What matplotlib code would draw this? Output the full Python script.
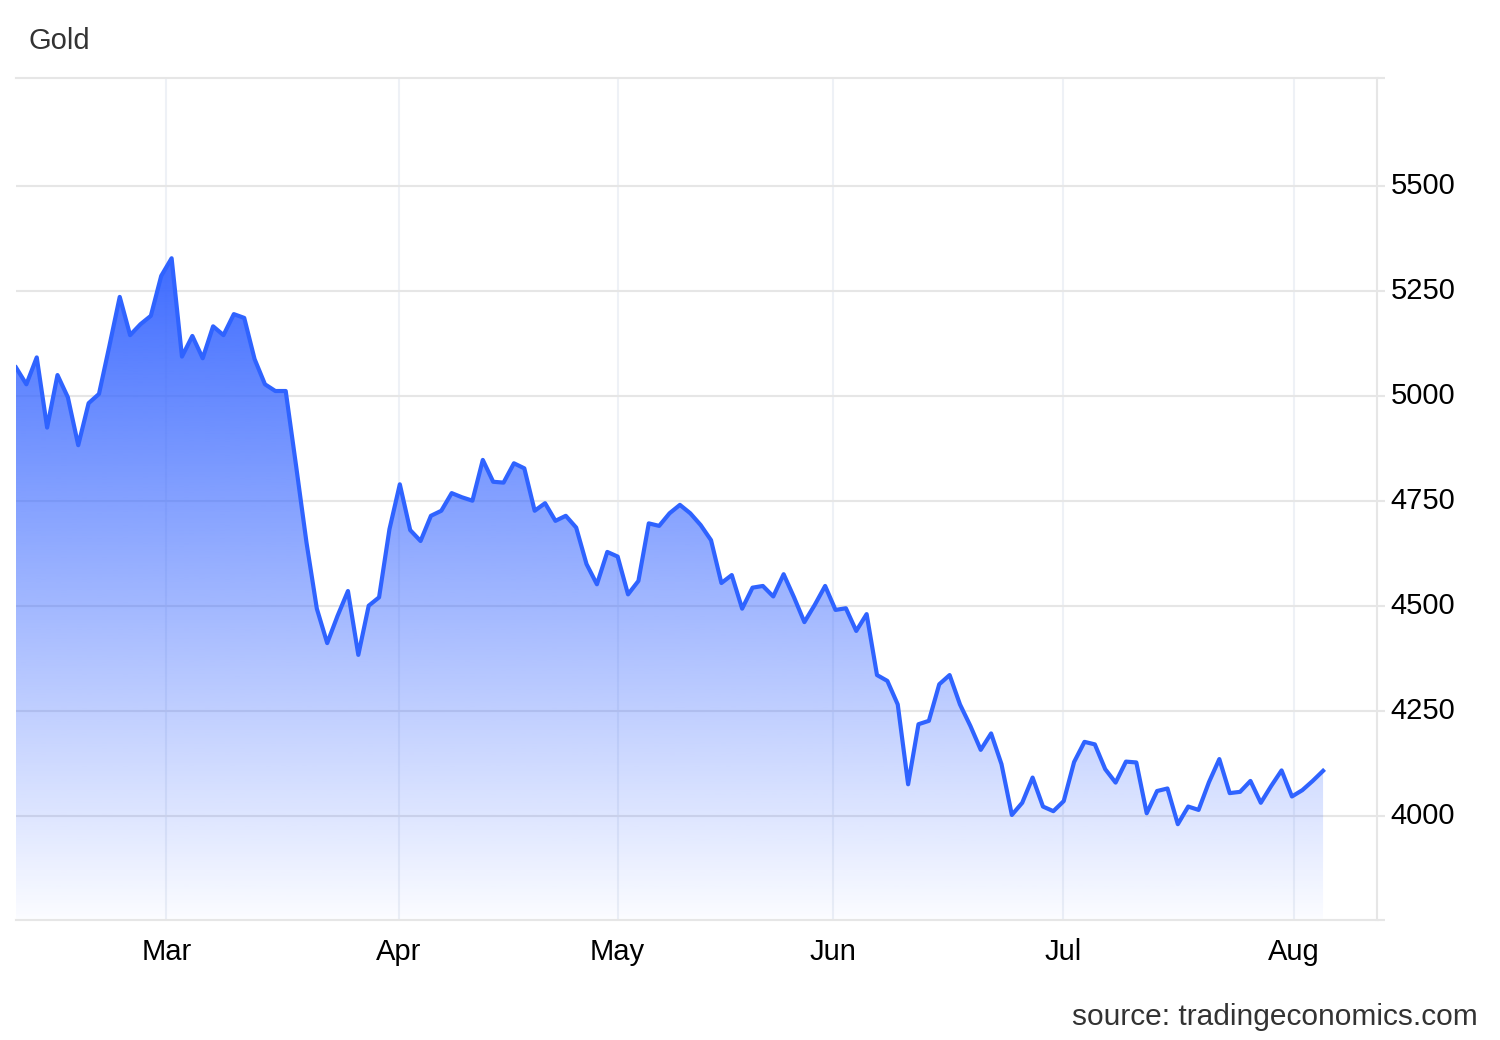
import matplotlib.pyplot as plt
import numpy as np
from matplotlib.colors import to_rgb
from matplotlib.transforms import ScaledTranslation

# daily gold price (USD/oz), one value per trading day
gold = [
    5067, 5027, 5091, 4924, 5049, 4996, 4882, 4982, 5004, 5118,
    5235, 5144, 5170, 5190, 5285, 5327, 5093, 5142, 5089, 5165,
    5144, 5194, 5185, 5087, 5027, 5011, 5011,
    4833, 4651, 4493, 4411, 4476, 4535, 4383, 4500, 4520, 4682,
    4789, 4680, 4654, 4714, 4726, 4768, 4758, 4750, 4847, 4795,
    4793, 4839, 4827, 4726, 4744, 4702, 4714,
    4686, 4599, 4551, 4628, 4617, 4527, 4559, 4696, 4690, 4720,
    4740, 4720, 4692, 4656, 4554, 4573, 4493, 4543, 4547, 4522,
    4575, 4520, 4461, 4502, 4547, 4490,
    4494, 4440, 4480, 4335, 4321, 4265, 4075, 4218, 4226, 4313,
    4335, 4265, 4214, 4157, 4196, 4123, 4002, 4031, 4091, 4022,
    4011, 4035, 4128, 4176, 4170,
    4111, 4079, 4129, 4127, 4006, 4059, 4065, 3980, 4022, 4014,
    4080, 4135, 4054, 4057, 4083, 4031, 4071, 4108, 4046, 4061,
    4083, 4107,
]
month_labels = ['Mar', 'Apr', 'May', 'Jun', 'Jul', 'Aug']
month_pos = [14.5, 36.9, 58.0, 78.8, 100.9, 123.2]
y_ticks = [4000, 4250, 4500, 4750, 5000, 5250, 5500]

plt.rcParams['font.family'] = ['Liberation Sans', 'DejaVu Sans']

x = np.arange(len(gold))
ymin, ymax = 3752, 5756

fig = plt.figure(figsize=(15, 10.4), dpi=100)
ax = fig.add_axes([16 / 1500, 1 - 920 / 1040, (1377 - 16) / 1500, (920 - 78) / 1040])

# gradient area under the line
poly = ax.fill_between(x, gold, ymin, color='none', lw=0)
grad = np.zeros((256, 1, 4))
grad[..., :3] = to_rgb('#3b69ff')
grad[:, 0, 3] = np.linspace(0.98, 0.02, 256)
img = ax.imshow(grad, extent=[0, x[-1], ymin, max(gold)], aspect='auto',
                origin='upper', zorder=1, interpolation='bilinear')
img.set_clip_path(poly.get_paths()[0], transform=ax.transData)

ax.plot(x, gold, color='#2f63ff', lw=3, zorder=3)

ax.set_xlim(0, 131.2)
ax.set_ylim(ymin, ymax)

ax.set_xticks(month_pos, month_labels)
ax.set_yticks(y_ticks)
ax.set_yticks([ymin, ymax], minor=True)
ax.yaxis.tick_right()
ax.set_axisbelow(True)
ax.grid(axis='y', color='#e6e6e6', lw=1.5)
ax.grid(axis='x', color='#eef1f6', lw=1.5)

ax.tick_params(axis='x', length=0, pad=13, labelsize=21, labelcolor='black')
ax.tick_params(axis='y', which='both', length=5.8, width=1.5, color='#e6e6e6',
               pad=4, labelsize=21, labelcolor='black')

# nudge y labels slightly above their gridlines, as in the original
up = ScaledTranslation(0, 3 / 100, fig.dpi_scale_trans)
for lab in ax.get_yticklabels():
    lab.set_transform(lab.get_transform() + up)

for side in ['top', 'bottom', 'right']:
    ax.spines[side].set_color('#e6e6e6')
    ax.spines[side].set_linewidth(1.5)
ax.spines['left'].set_visible(False)

fig.text(29 / 1500, 1 - 41 / 1040, 'Gold', fontsize=21, color='#333333',
         ha='left', va='center')
fig.text(1478 / 1500, 1 - 1017 / 1040, 'source: tradingeconomics.com',
         fontsize=21.5, color='#333333', ha='right', va='center')

fig.savefig('out.png', dpi=100)
